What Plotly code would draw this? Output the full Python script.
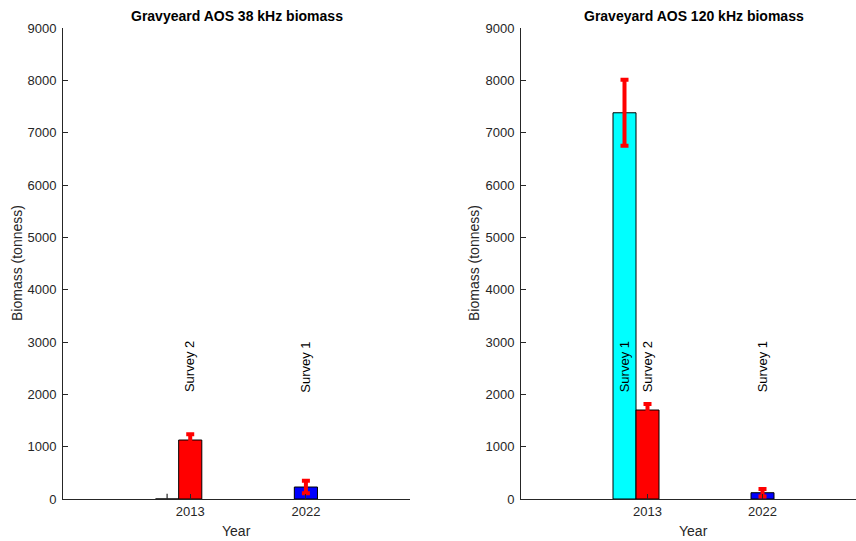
import plotly.graph_objects as go

# data
years = ["2013", "2022"]

# 38 kHz panel: (year, survey, biomass, error, bar colour, error colour)
bio38_year = ["2013", "2013", "2022"]
bio38_survey = ["Survey 1", "Survey 2", "Survey 1"]
bio38_value = [0, 1127, 229]
bio38_err = [100, 110, 118]
bio38_color = ["cyan", "red", "blue"]
bio38_errcolor = ["#262626", "red", "red"]
bio38_label = [False, True, True]

# 120 kHz panel
bio120_year = ["2013", "2013", "2022"]
bio120_survey = ["Survey 1", "Survey 2", "Survey 1"]
bio120_value = [7380, 1700, 120]
bio120_err = [630, 115, 72]
bio120_color = ["cyan", "red", "blue"]
bio120_errcolor = ["red", "red", "red"]
bio120_label = [True, True, True]

yticks = [0, 1000, 2000, 3000, 4000, 5000, 6000, 7000, 8000, 9000]

W, H = 856, 541
AX = "#262626"
FONT = "Liberation Sans, Arial, sans-serif"
bar_w = 0.2


def px(x):
    return x / W


def py(y):
    return 1 - y / H


def positions(year_list):
    # last bar of a year sits on the tick, earlier ones step left
    xs = []
    for k, yr in enumerate(year_list):
        tick = years.index(yr) + 1.1
        later = year_list[k + 1:].count(yr)
        xs.append(tick - later * bar_w)
    return xs


fig = go.Figure()
annotations = []

panels = [
    ("x", "y", bio38_year, bio38_value, bio38_err, bio38_color, bio38_errcolor,
     bio38_survey, bio38_label),
    ("x2", "y2", bio120_year, bio120_value, bio120_err, bio120_color,
     bio120_errcolor, bio120_survey, bio120_label),
]

for xa, ya, yr, val, err, col, ecol, surv, lab in panels:
    xs = positions(yr)
    for i in range(len(val)):
        fig.add_trace(go.Bar(
            x=[xs[i]], y=[val[i]], width=bar_w, xaxis=xa, yaxis=ya,
            marker=dict(color=col[i], line=dict(color="black", width=1)),
            error_y=dict(type="data", array=[err[i]], color=ecol[i],
                         thickness=4 if ecol[i] == "red" else 1.2,
                         width=4 if ecol[i] == "red" else 0),
            showlegend=False, hoverinfo="skip",
        ))
        if lab[i]:
            annotations.append(dict(
                x=xs[i], y=2000, xref=xa, yref=ya, text=surv[i],
                textangle=-90, showarrow=False, xanchor="center",
                yanchor="bottom", font=dict(family=FONT, size=13, color="black"),
            ))

# panel titles and axis titles
for cx, title in [(236.5, "Gravyeard AOS 38 kHz biomass"),
                  (693.5, "Graveyard AOS 120 kHz biomass")]:
    annotations.append(dict(x=px(cx), y=py(16), xref="paper", yref="paper",
                            xanchor="center", yanchor="middle",
                            text="<b>" + title + "</b>", showarrow=False,
                            font=dict(family=FONT, size=14, color="black")))
for cx in (236.5, 693.5):
    annotations.append(dict(x=px(cx), y=py(531), xref="paper", yref="paper",
                            xanchor="center", yanchor="middle",
                            text="Year", showarrow=False,
                            font=dict(family=FONT, size=14, color=AX)))
for cx in (17, 474):
    annotations.append(dict(x=px(cx), y=py(263), xref="paper", yref="paper",
                            xanchor="center", yanchor="middle",
                            text="Biomass (tonness)", textangle=-90,
                            showarrow=False,
                            font=dict(family=FONT, size=14, color=AX)))

xcommon = dict(tickvals=[1.1, 2.1], ticktext=years, ticks="inside", ticklen=5,
               tickcolor=AX, showline=True, linecolor=AX, linewidth=1,
               showgrid=False, zeroline=False, automargin=False,
               tickfont=dict(family=FONT, size=13, color=AX))
ycommon = dict(range=[0, 9000], tickvals=yticks, ticks="inside", ticklen=5,
               tickcolor=AX, showline=True, linecolor=AX, linewidth=1,
               showgrid=False, zeroline=False, ticklabelstandoff=3,
               automargin=False,
               tickfont=dict(family=FONT, size=13, color=AX))

ydom = [py(499), py(28)]
fig.update_layout(
    width=W, height=H,
    margin=dict(l=0, r=0, t=0, b=0, autoexpand=False),
    paper_bgcolor="white", plot_bgcolor="white",
    barmode="overlay",
    xaxis=dict(xcommon, domain=[px(63), px(410)], range=[0, 3], anchor="y"),
    yaxis=dict(ycommon, domain=ydom, anchor="x"),
    xaxis2=dict(xcommon, domain=[px(521), 1.0], range=[0, (856 - 521) / 115],
                anchor="y2"),
    yaxis2=dict(ycommon, domain=ydom, anchor="x2"),
    annotations=annotations,
    font=dict(family=FONT),
)

# page body has a default 8px margin; drop it so the figure sits at 0,0
fig.write_html("out.html", config={"displayModeBar": False},
               post_script="document.body.style.margin='0';")
